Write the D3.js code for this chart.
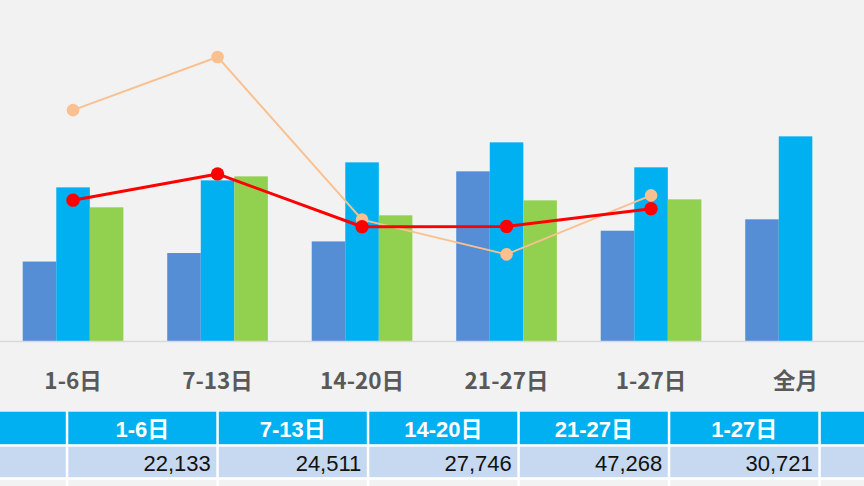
<!DOCTYPE html>
<html><head><meta charset="utf-8">
<script src="https://cdn.jsdelivr.net/npm/d3@7"></script>
<style>
html,body{margin:0;padding:0;background:#f2f2f2;overflow:hidden;}
svg{display:block;}
</style></head>
<body>
<svg id="chart" width="864" height="486"></svg>
<script>
// ---- data ----
const categories = ["1-6日", "7-13日", "14-20日", "21-27日", "1-27日", "全月"];
const seriesA = [22133, 24511, 27746, 47268, 30721, 33900];      // dark blue (table row)
const seriesB = [42800, 44750, 49770, 55340, 48380, 57010];      // light blue
const seriesC = [37240, 45870, 35010, 39180, 39460, null];       // green
const lineRed = [41.3, 49.0, 33.5, 33.6, 38.8];                  // red line (secondary axis)
const linePeach = [67.7, 83.3, 35.6, 25.4, 42.7];                // peach line (secondary axis)
const tableHeaders = categories;
const tableValues = seriesA;

const W = 864, H = 486;
const svg = d3.select("#chart");
svg.append("rect").attr("width", W).attr("height", H).attr("fill", "#f2f2f2");

const baseY = 341;
const x = d3.scaleBand().domain(categories).range([0.8, 867.8]).paddingInner(0.3035).paddingOuter(0.15175);
const seriesKeys = ["A", "B", "C"];
const xs = d3.scaleBand().domain(seriesKeys).range([0, x.bandwidth()]);
const y = d3.scaleLinear().domain([0, 95000]).range([baseY, 0]);
const y2 = d3.scaleLinear().domain([0, 100]).range([baseY, 0]);

const colors = {A: "#558ed5", B: "#00b0f0", C: "#92d050"};
const data = {A: seriesA, B: seriesB, C: seriesC};

const barsG = svg.append("g");
seriesKeys.forEach(k => {
  barsG.selectAll("rect.s" + k)
    .data(categories.map((c, i) => ({c, v: data[k][i]})).filter(d => d.v != null))
    .enter().append("rect")
    .attr("x", d => x(d.c) + xs(k))
    .attr("y", d => y(d.v))
    .attr("width", xs.bandwidth())
    .attr("height", d => baseY - y(d.v))
    .attr("fill", colors[k]);
});

// axis
const xAxis = d3.axisBottom(x).tickSize(0).tickPadding(0);
const axG = svg.append("g").attr("transform", `translate(0,${baseY})`).call(xAxis);
axG.select(".domain").remove();
axG.selectAll("text")
  .attr("y", 47.5)
  .attr("dy", 0)
  .attr("font-family", "'Noto Sans CJK SC', 'Noto Sans', sans-serif")
  .attr("font-weight", "bold")
  .attr("font-size", 22.5)
  .attr("fill", "#595959");
svg.append("line").attr("x1", 0).attr("x2", W).attr("y1", baseY + 0.5).attr("y2", baseY + 0.5)
  .attr("stroke", "#d9d9d9").attr("stroke-width", 1.5);

// lines
const cx = (i) => x(categories[i]) + x.bandwidth() / 2;
function drawLine(vals, color, width, r) {
  const line = d3.line().x((d, i) => cx(i)).y(d => y2(d));
  svg.append("path").datum(vals).attr("d", line).attr("fill", "none")
    .attr("stroke", color).attr("stroke-width", width).attr("stroke-linejoin", "round");
  svg.append("g").selectAll("circle").data(vals).enter().append("circle")
    .attr("cx", (d, i) => cx(i)).attr("cy", d => y2(d)).attr("r", r).attr("fill", color);
}
drawLine(linePeach, "#fac090", 2, 6.3);
drawLine(lineRed, "#ff0000", 3, 6.7);

// table
const colX0 = 68.3, colW = 150.5, gap = 2.5;
const tx = d3.scaleLinear().domain([0, 1]).range([colX0, colX0 + colW]);
const rows = [
  {y0: 411.7, y1: 444.2, fill: "#00b0f0"},
  {y0: 446.7, y1: 477.2, fill: "#c6d9f1"},
  {y0: 479.7, y1: 520, fill: "#f2f2f2"}
];
svg.append("rect").attr("x", 0).attr("y", rows[0].y0).attr("width", W).attr("height", H - rows[0].y0).attr("fill", "#ffffff");
const tG = svg.append("g");
rows.forEach(r => {
  tG.append("rect").attr("x", 0).attr("y", r.y0).attr("width", colX0 - gap).attr("height", r.y1 - r.y0).attr("fill", r.fill);
  categories.forEach((c, i) => {
    tG.append("rect").attr("x", tx(i)).attr("y", r.y0).attr("width", colW - gap).attr("height", r.y1 - r.y0).attr("fill", r.fill);
  });
});
// only columns whose cell text lies inside the visible frame (the rest is cropped in the reference)
const visibleCols = tableHeaders.map((h, i) => i).filter(i => tx(i) + colW - gap <= W);
tG.selectAll("text.h").data(visibleCols).enter().append("text")
  .attr("x", i => tx(i) + (colW - gap) / 2)
  .attr("y", 436.5)
  .attr("text-anchor", "middle")
  .attr("font-family", "'Liberation Sans', 'Noto Sans CJK SC', sans-serif")
  .attr("font-weight", "bold")
  .attr("font-size", 22)
  .attr("fill", "#ffffff")
  .text(i => tableHeaders[i]);
const fmt = d3.format(",");
tG.selectAll("text.v").data(visibleCols).enter().append("text")
  .attr("x", i => tx(i) + colW - gap - 5.5)
  .attr("y", 471)
  .attr("text-anchor", "end")
  .attr("font-family", "'Liberation Sans', Arial, sans-serif")
  .attr("font-size", 22)
  .attr("fill", "#111111")
  .text(i => fmt(tableValues[i]));
</script>
</body></html>
